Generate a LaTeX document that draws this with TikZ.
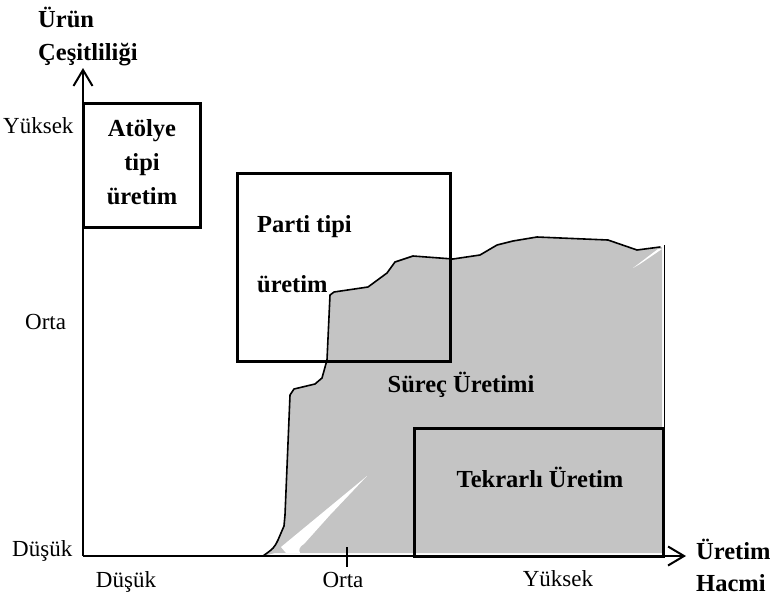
\documentclass[tikz,border=0pt]{standalone}
\usepackage{fontspec}
\setmainfont{Liberation Serif}
\usetikzlibrary{arrows.meta}
\definecolor{regiongray}{RGB}{196,196,196}
\tikzset{
  lbl/.style={inner sep=0pt, font=\fontsize{23}{26}\selectfont},
  blbl/.style={inner sep=0pt, font=\fontsize{24.5}{28}\selectfont\bfseries},
  boxline/.style={line width=3pt},
  axis/.style={line width=2pt, -{Straight Barb[length=16pt,width=19pt,line width=2pt]}},
  outline/.style={line width=1.6pt, line join=round, line cap=round}
}
\begin{document}
\begin{tikzpicture}[x=1pt,y=-1pt]
\useasboundingbox (0,0) rectangle (772,598);
% process region
\fill[regiongray] (263,556) .. controls (274,548) .. (278,540) -- (284,526) -- (285,515) -- (290,395) -- (294,389) -- (315,384) -- (322,378) -- (327,360) -- (330,295) -- (334,292) -- (368,287) -- (387,273) -- (395,262) -- (413,256) -- (453,259) -- (480,255) -- (497,245) -- (513,241) -- (537,237) -- (608,240) -- (637,250) -- (662,247) -- (662,553) -- (275,553) -- cycle;
\fill[white] (367,476) -- (281,547) -- (286,553) -- (300,553) .. controls (298,550) and (300,546) .. (304,544) -- (330,515) -- cycle;
\fill[white] (633,268) -- (658,249) -- (662,249) -- (640,264) -- cycle;
\draw[outline] (263,556) .. controls (274,548) .. (278,540) -- (284,526) -- (285,515) -- (290,395) -- (294,389) -- (315,384) -- (322,378) -- (327,360) -- (330,295) -- (334,292) -- (368,287) -- (387,273) -- (395,262) -- (413,256) -- (453,259) -- (480,255) -- (497,245) -- (513,241) -- (537,237) -- (608,240) -- (637,250) -- (660,247);
\draw[line width=1pt] (664,245) -- (664,556);
% boxes
\draw[boxline] (83,103) rectangle (200,227);
\draw[boxline] (237,173) rectangle (450,361);
\draw[boxline] (414,428) rectangle (663,556);
% axes
\coordinate (O) at (83,556);
\coordinate (ytop) at (83,68);
\coordinate (xend) at (686,556);
\draw[axis] (O) -- (ytop);
\draw[axis] (O) -- (xend);
\draw[line width=1.2pt] (347,547) -- (347,567);
% axis titles
\node[blbl, anchor=base west] (yt1) at (38,27) {Ürün};
\node[blbl, anchor=base west] (yt2) at (38,60) {Çeşitliliği};
\node[blbl, anchor=base west] (xt1) at (696,559) {Üretim};
\node[blbl, anchor=base west] (xt2) at (696,591) {Hacmi};
% y tick labels
\node[lbl, anchor=base west] (yh) at (3,133) {Yüksek};
\node[lbl, anchor=base west] (ym) at (25,329) {Orta};
\node[lbl, anchor=base west] (yl) at (12,556) {Düşük};
% x tick labels
\node[lbl, anchor=base] (xl) at (126,587) {Düşük};
\node[lbl, anchor=base] (xm) at (343,587) {Orta};
\node[lbl, anchor=base] (xh) at (558,586) {Yüksek};
% region labels
\node[blbl, anchor=base] (a1) at (142,136) {Atölye};
\node[blbl, anchor=base] (a2) at (142,170) {tipi};
\node[blbl, anchor=base] (a3) at (142,204) {üretim};
\node[blbl, anchor=base west] (p1) at (257,232) {Parti tipi};
\node[blbl, anchor=base west] (p2) at (257,292) {üretim};
\node[blbl, anchor=base] (s) at (461,392) {Süreç Üretimi};
\node[blbl, anchor=base] (t) at (540,487) {Tekrarlı Üretim};
\end{tikzpicture}
\end{document}
